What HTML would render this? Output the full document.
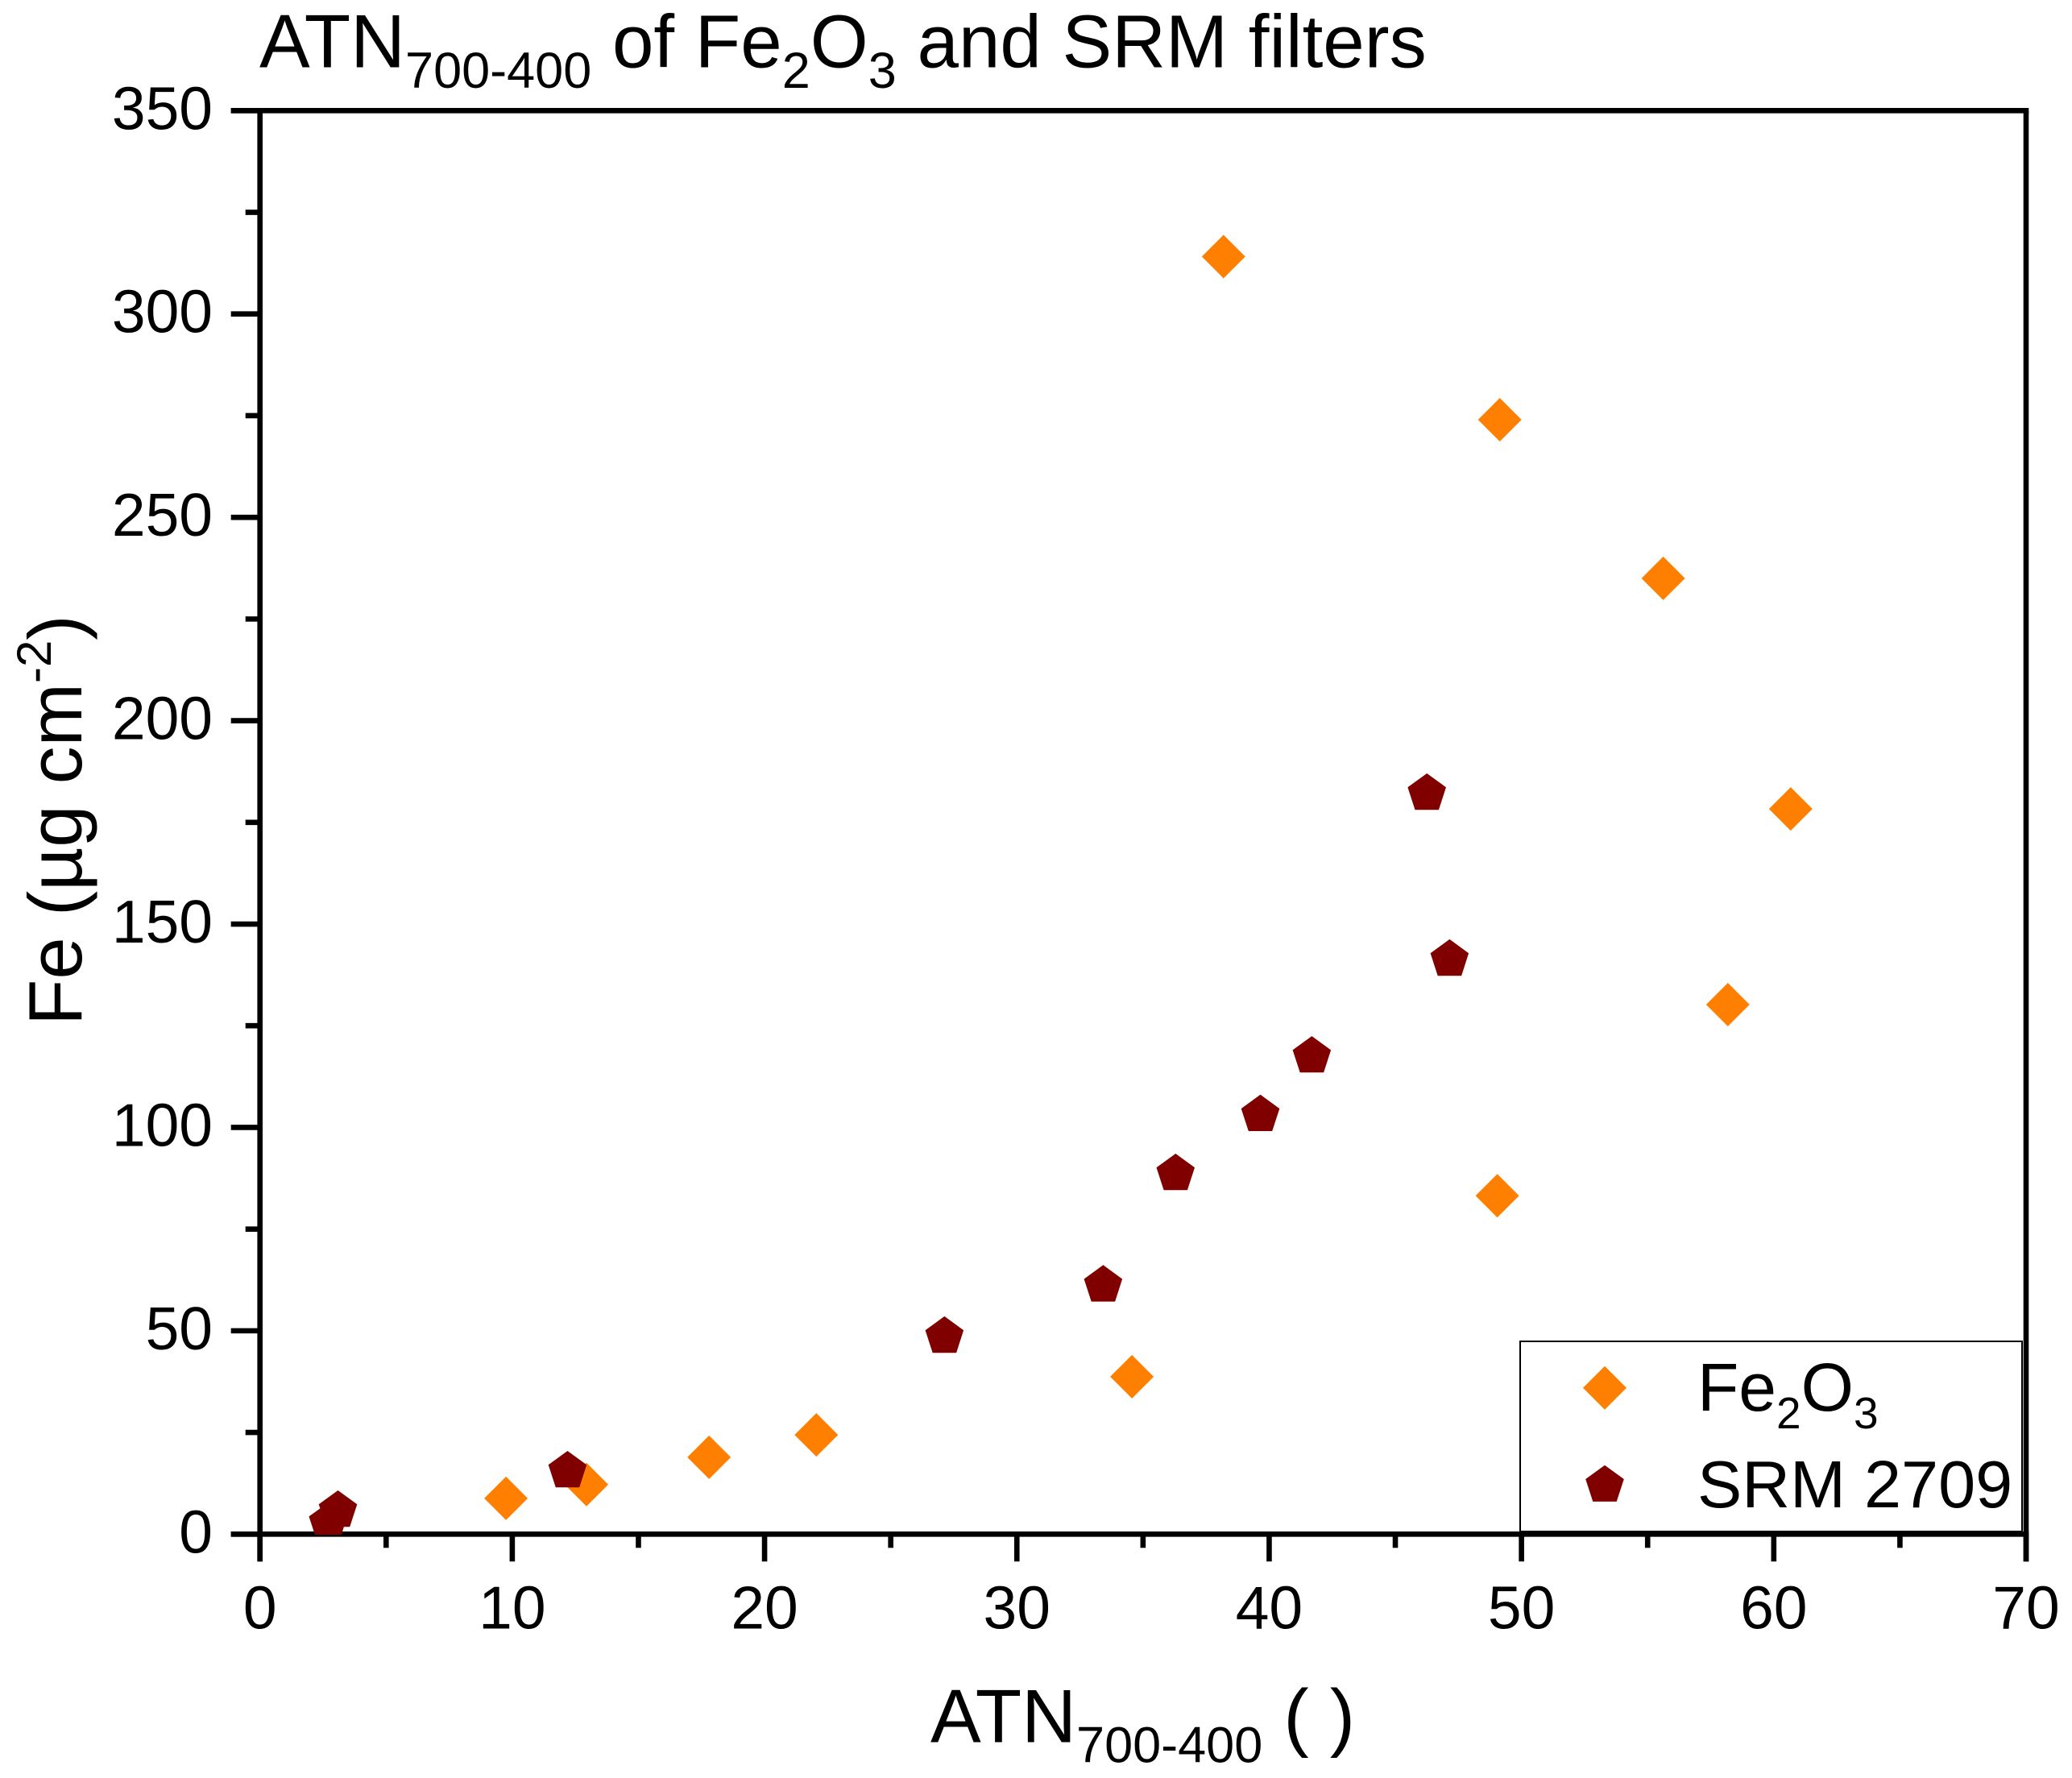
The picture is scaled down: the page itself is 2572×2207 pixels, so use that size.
<!DOCTYPE html>
<html lang="en">
<head>
<meta charset="utf-8">
<title>ATN700-400 of Fe2O3 and SRM filters</title>
<style>
  html, body { margin: 0; padding: 0; background: #fff; }
  svg { display: block; }
  text { font-family: "Liberation Sans", sans-serif; fill: #000; }
</style>
</head>
<body>
<svg id="chart" xmlns="http://www.w3.org/2000/svg" width="2572" height="2207" viewBox="0 0 2572 2207">
  <defs>
    <clipPath id="plot-clip">
      <rect x="319" y="134" width="2200" height="1771"/>
    </clipPath>
  </defs>
  <rect x="0" y="0" width="2572" height="2207" fill="#ffffff"/>
  <g id="axes"></g>
  <g id="marks-fe" clip-path="url(#plot-clip)"></g>
  <g id="marks-srm" clip-path="url(#plot-clip)"></g>
  <g id="legend">
    <rect x="1887" y="1665" width="623" height="236" fill="#ffffff" stroke="#000" stroke-width="2"/>
    <polygon points="1992,1695.7 2019,1722.7 1992,1749.7 1965,1722.7" fill="#FF8000"/>
    <polygon points="1992,1818.7 2015.8,1836 2006.7,1863.9 1977.3,1863.9 1968.2,1836" fill="#800000"/>
    <text x="2107" y="1751" font-size="84">Fe<tspan font-size="55" dy="22">2</tspan><tspan dy="-22">O</tspan><tspan font-size="55" dy="22">3</tspan></text>
    <text x="2107" y="1871" font-size="82.8">SRM 2709</text>
  </g>
  <text x="322" y="83.3" font-size="92.5"><tspan font-size="94">ATN</tspan><tspan font-size="63" dy="25.7">700-400</tspan><tspan dy="-25.7"> of Fe</tspan><tspan font-size="63" dy="25.7">2</tspan><tspan dy="-25.7">O</tspan><tspan font-size="63" dy="25.7">3</tspan><tspan dy="-25.7"> and SRM filters</tspan></text>
  <text x="1155" y="2162.7" font-size="94">ATN<tspan font-size="63" dy="25">700-400</tspan><tspan dy="-25"> ( )</tspan></text>
  <text transform="translate(101 1273) rotate(-90)" x="0" y="0" font-size="94">Fe (µg cm<tspan font-size="60" dy="-38">-2</tspan><tspan dy="38">)</tspan></text>
</svg>
<script>
const feX = [38.19, 49.14, 55.62, 60.67, 58.18, 49.04, 34.56, 22.05, 17.8, 12.94, 9.75];
const feY = [314.1, 274.0, 235.0, 178.3, 130.2, 83.2, 38.7, 24.4, 18.9, 12.2, 8.8];
const srmX = [2.7, 3.09, 12.19, 27.13, 33.42, 36.29, 39.65, 41.69, 47.15, 46.25];
const srmY = [2.8, 5.8, 15.5, 48.6, 61.2, 88.6, 103.1, 117.5, 141.3, 182.1];
const xMajorTicks = [0, 10, 20, 30, 40, 50, 60, 70];
const xMinorTicks = [5, 15, 25, 35, 45, 55, 65];
const yMajorTicks = [0, 50, 100, 150, 200, 250, 300, 350];
const yMinorTicks = [25, 75, 125, 175, 225, 275, 325];

const NS = 'http://www.w3.org/2000/svg';
const xAxis = function (v) { return 322.7 + (v / 70) * 2192.3; };
const yAxis = function (v) { return 1904.3 - (v / 350) * 1767; };

function create(tag, parent) {
  const el = document.createElementNS(NS, tag);
  parent.appendChild(el);
  return el;
}
function polyPoints(cx, cy, r, n) {
  const pts = [];
  for (let i = 0; i < n; i++) {
    const a = -Math.PI / 2 + i * 2 * Math.PI / n;
    pts.push((cx + r * Math.cos(a)).toFixed(1) + ',' + (cy + r * Math.sin(a)).toFixed(1));
  }
  return pts.join(' ');
}

const feLayer = document.getElementById('marks-fe');
feX.forEach(function (v, i) {
  const p = create('polygon', feLayer);
  p.setAttribute('points', polyPoints(xAxis(v), yAxis(feY[i]), 27, 4));
  p.setAttribute('fill', '#FF8000');
  
  
});

const srmLayer = document.getElementById('marks-srm');
srmX.forEach(function (v, i) {
  const p = create('polygon', srmLayer);
  p.setAttribute('points', polyPoints(xAxis(v), yAxis(srmY[i]), 25, 5));
  p.setAttribute('fill', '#800000');
  
  
});

const axes = document.getElementById('axes');
function line(x1, y1, x2, y2, w) {
  const l = create('line', axes);
  l.setAttribute('x1', x1);
  l.setAttribute('y1', y1);
  l.setAttribute('x2', x2);
  l.setAttribute('y2', y2);
  l.setAttribute('stroke', '#000');
  l.setAttribute('stroke-width', w);
  return l;
}

const spineBottom = line(xAxis(0) - 36, yAxis(0), xAxis(70) + 3.3, yAxis(0), 6.6);


const spineTop = line(xAxis(0) - 36, yAxis(350), xAxis(70) + 3.3, yAxis(350), 6.6);


const spineLeft = line(xAxis(0), yAxis(350), xAxis(0), yAxis(0) + 34, 6.6);


const spineRight = line(xAxis(70), yAxis(350), xAxis(70), yAxis(0) + 34, 6.6);



xMajorTicks.forEach(function (v) {
  const t = line(xAxis(v), yAxis(0), xAxis(v), yAxis(0) + 34, 6.6);
  
  
  const label = create('text', axes);
  label.setAttribute('x', xAxis(v));
  label.setAttribute('y', yAxis(0) + 117);
  label.setAttribute('font-size', '75');
  label.setAttribute('text-anchor', 'middle');
  
  
  label.textContent = String(v);
});
xMinorTicks.forEach(function (v) {
  const t = line(xAxis(v), yAxis(0), xAxis(v), yAxis(0) + 17, 6.6);
  
  
});
yMajorTicks.forEach(function (v) {
  const t = line(xAxis(0) - 36, yAxis(v), xAxis(0), yAxis(v), 6.6);
  
  
  const label = create('text', axes);
  label.setAttribute('x', 264);
  label.setAttribute('y', yAxis(v) + 23);
  label.setAttribute('font-size', '75');
  label.setAttribute('text-anchor', 'end');
  
  
  label.textContent = String(v);
});
yMinorTicks.forEach(function (v) {
  const t = line(xAxis(0) - 18, yAxis(v), xAxis(0), yAxis(v), 6.6);
  
  
});
</script>
</body>
</html>
